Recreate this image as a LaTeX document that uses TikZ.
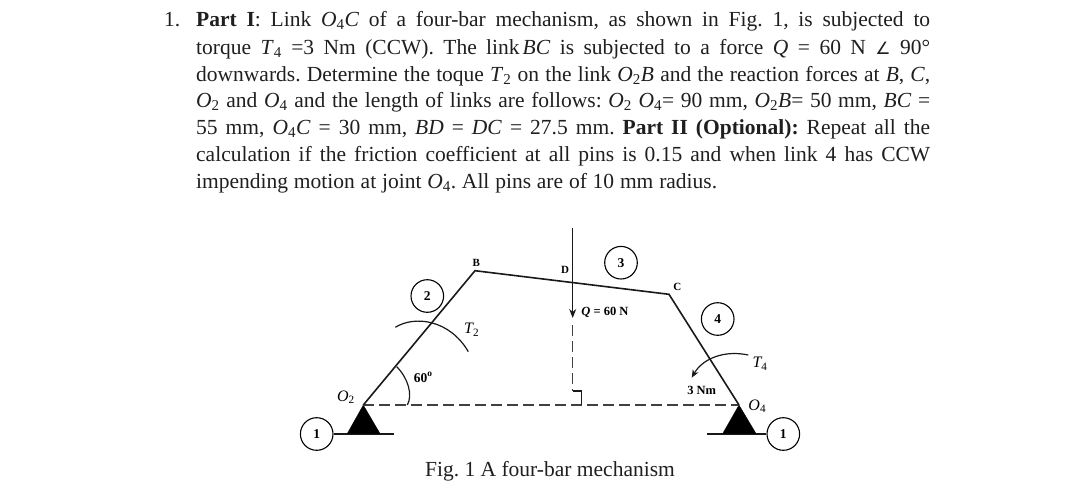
\documentclass[tikz,border=0pt]{standalone}
\usepackage{fontspec}
\setmainfont{Liberation Serif}
\newfontfamily\symfont{DejaVu Sans}
\usetikzlibrary{arrows.meta}
\frenchspacing
\newcommand{\sbs}[1]{\textsubscript{\normalfont #1}}
\newcommand{\Ofour}{\textit{O}\sbs{4}}
\newcommand{\Otwo}{\textit{O}\sbs{2}}
\tikzset{
  textline/.style={anchor=base west,inner sep=0pt,font=\fontsize{21.5}{25}\selectfont,text=black!88},
  linkline/.style={line width=1.6pt,black!90},
  thinline/.style={line width=1.2pt,black!90},
  dashline/.style={line width=1.2pt,black!75,dash pattern=on 11pt off 5pt},
  numcircle/.style={circle,draw,line width=1.1pt,minimum size=32.6pt,inner sep=0pt,font=\fontsize{13.5}{15}\selectfont\bfseries},
  boldlabel/.style={inner sep=0pt,font=\fontsize{11}{13}\selectfont\bfseries},
  symlabel/.style={inner sep=0pt,font=\fontsize{16}{18}\selectfont\itshape},
  support/.style={fill=black,draw=black,line width=.3pt}
}
\begin{document}
\begin{tikzpicture}[x=1pt,y=-1pt]
\useasboundingbox (0,0) rectangle (1080,496);
% text
\node[textline] (n0) at (164,26) {1.};
\node[textline] (l1) at (196,26) {\hbox to 734pt{\textbf{Part I}: Link \Ofour\textit{C} of a four-bar mechanism, as shown in Fig. 1, is subjected to}};
\node[textline] (l2) at (196,54) {\hbox to 734pt{torque \textit{T}\sbs{4} =3 Nm (CCW). The link\kern3pt\textit{BC} is subjected to a force \textit{Q} = 60 N {\symfont\fontsize{17}{20}\selectfont∠} 90°}};
\node[textline] (l3) at (196,81) {\hbox to 734pt{downwards. Determine the toque \textit{T}\sbs{2} on the link \Otwo\textit{B} and the reaction forces at \textit{B}, \textit{C},}};
\node[textline] (l4) at (196,107.5) {\hbox to 734pt{\Otwo{} and \Ofour{} and the length of links are follows: \Otwo{} \Ofour= 90 mm, \Otwo\textit{B}= 50 mm, \textit{BC} =}};
\node[textline] (l5) at (196,134.5) {\hbox to 734pt{55 mm, \Ofour\textit{C} = 30 mm, \textit{BD} = \textit{DC} = 27.5 mm. \textbf{Part II (Optional):} Repeat all the}};
\node[textline] (l6) at (196,161) {\hbox to 734pt{calculation if the friction coefficient at all pins is 0.15 and when link 4 has CCW}};
\node[textline] (l7) at (196,188) {\hbox to 521pt{impending motion at joint \Ofour. All pins are of 10 mm radius.}};
\node[textline,anchor=base] (cap) at (550,476) {Fig. 1 A four-bar mechanism};
% points
\coordinate (O2) at (363.3,405);
\coordinate (B) at (475,270.7);
\coordinate (C) at (669,294.3);
\coordinate (O4) at (739,405);
\coordinate (Qtop) at (572.7,228);
\coordinate (Qtip) at (572.7,318);
\coordinate (Vtop) at (572.7,325);
\coordinate (Vbot) at (572.7,391);
\coordinate (Sa) at (581.7,391);
\coordinate (Sb) at (581.7,405);
% supports
\node[numcircle] (c1l) at (316.7,434) {1};
\node[numcircle] (c1r) at (783.3,434) {1};
\coordinate (G2e) at (394,434);
\coordinate (G4e) at (706.7,434);
\draw[thinline] (c1l) -- (G2e);
\draw[thinline] (c1r) -- (G4e);
\coordinate (T2a) at (347.3,433.5);
\coordinate (T2b) at (380,433.5);
\coordinate (T4a) at (722.7,433.5);
\coordinate (T4b) at (756,433.5);
\draw[support] (O2) -- (T2a) -- (T2b) -- cycle;
\draw[support] (O4) -- (T4a) -- (T4b) -- cycle;
% dashed
\draw[dashline] (O2) -- (O4);
\draw[dashline] (Vtop) -- (Vbot);
\draw[thinline] (Vbot) -- (Sa) -- (Sb);
% links
\draw[linkline,line join=miter] (O2) -- (B) -- (C) -- (O4);
\draw[thinline,-{Stealth[length=9pt,width=7pt]}] (Qtop) -- (Qtip);
% arcs
\coordinate (A2s) at (395.3,327.3);
\coordinate (A2e) at (468.3,351.7);
\draw[thinline] (A2s) .. controls (415,315) and (450,320) .. (A2e);
\coordinate (A6s) at (396.7,366.7);
\coordinate (A6e) at (407.3,405);
\draw[thinline] (A6s) .. controls (408,378) and (413,395) .. (A6e);
\coordinate (A4s) at (748.3,355);
\coordinate (A4e) at (691.7,377.7);
\draw[thinline,-{Stealth[length=8pt,width=6.5pt]}] (A4s) .. controls (725,350) and (703,358) .. (A4e);
% circles
\node[numcircle] (c2) at (427.3,296) {2};
\node[numcircle] (c3) at (621,262.7) {3};
\node[numcircle] (c4) at (717.7,319) {4};
% labels
\node[boldlabel] (lB) at (476.3,263.3) {B};
\node[boldlabel] (lD) at (565,270) {D};
\node[boldlabel] (lC) at (677.3,286.7) {C};
\node[boldlabel,font=\fontsize{13.5}{15}\selectfont\bfseries] (l60) at (423.3,377.3) {60\textsuperscript{o}};
\node[boldlabel,font=\fontsize{12.5}{15}\selectfont\bfseries] (lQ) at (605,312.3) {\textit{Q} = 60 N};
\node[boldlabel,font=\fontsize{12.5}{15}\selectfont\bfseries] (l3N) at (701.7,390.7) {3 Nm};
\node[symlabel] (lO2) at (346,397) {O\textsubscript{\normalfont 2}};
\node[symlabel] (lO4) at (757.3,406) {O\textsubscript{\normalfont 4}};
\node[symlabel] (lT2) at (471.7,330) {T\textsubscript{\normalfont 2}};
\node[symlabel] (lT4) at (760,364) {T\textsubscript{\normalfont 4}};
\end{tikzpicture}
\end{document}
